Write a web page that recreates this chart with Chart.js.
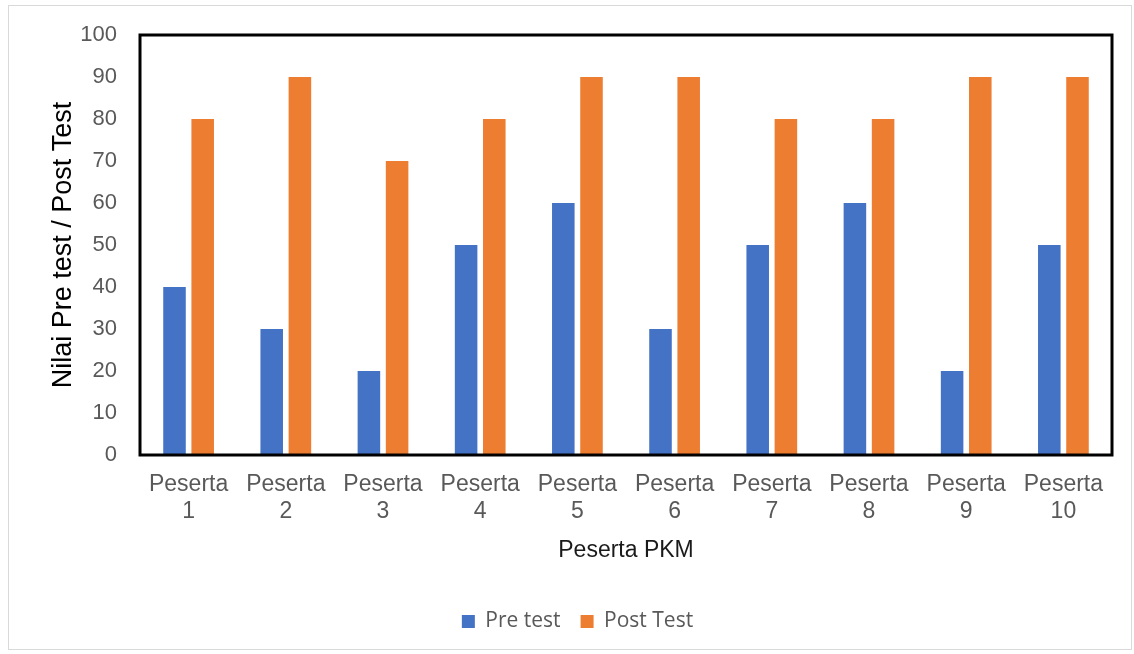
<!DOCTYPE html>
<html lang="id">
<head>
<meta charset="UTF-8">
<title>Nilai Pre test / Post Test</title>
<script src="https://cdn.jsdelivr.net/npm/chart.js"></script>
<style>
  body { margin: 0; background: #fff; }
  #wrap { position: absolute; left: 8px; top: 5px; width: 1124px; height: 645px; border: 1px solid #d9d9d9; box-sizing: border-box; }
  canvas { display: block; }
</style>
</head>
<body>
<div id="wrap"><canvas id="nilaiChart"></canvas></div>
<script>
// data peserta
const pesertaLabels = [['Peserta', '1'], ['Peserta', '2'], ['Peserta', '3'], ['Peserta', '4'], ['Peserta', '5'],
                       ['Peserta', '6'], ['Peserta', '7'], ['Peserta', '8'], ['Peserta', '9'], ['Peserta', '10']];
const preTest = [40, 30, 20, 50, 60, 30, 50, 60, 20, 50];
const postTest = [80, 90, 70, 80, 90, 90, 80, 80, 90, 90];

// bingkai hitam di sekitar area plot
const frame = {
  id: 'frame',
  afterDatasetsDraw(chart) {
    const a = chart.chartArea, c = chart.ctx;
    c.save();
    c.strokeStyle = '#000';
    c.lineWidth = 3;
    c.strokeRect(a.left, a.top, a.right - a.left, a.bottom - a.top);
    c.restore();
  }
};

const font = { family: 'Arial, "Liberation Sans", sans-serif' };

new Chart(document.getElementById('nilaiChart'), {
  type: 'bar',
  data: {
    labels: pesertaLabels,
    datasets: [
      { label: 'Pre test', data: preTest, backgroundColor: '#4472c4', barPercentage: 0.8, categoryPercentage: 0.58 },
      { label: 'Post Test', data: postTest, backgroundColor: '#ed7d31', barPercentage: 0.8, categoryPercentage: 0.58 }
    ]
  },
  options: {
    responsive: true,
    maintainAspectRatio: false,
    animation: false,
    layout: { padding: { top: 29, right: 19, left: 34, bottom: 7 } },
    plugins: {
      tooltip: { enabled: false },
      legend: {
        position: 'bottom',
        labels: {
          boxWidth: 13, boxHeight: 13, padding: 20, color: '#595959',
          font: { family: '"Open Sans", Arial, sans-serif', size: 21 }
        }
      }
    },
    scales: {
      x: {
        grid: { display: false, drawTicks: false },
        border: { display: false },
        ticks: { color: '#595959', font: { ...font, size: 23, lineHeight: 1.17 }, padding: 16, maxRotation: 0 },
        title: { display: true, text: 'Peserta PKM', color: '#1a1a1a', font: { ...font, size: 23 }, padding: { top: 8, bottom: 27 } },
        afterFit(s) { s.height = 136; }
      },
      y: {
        min: 0, max: 100,
        grid: { display: false, drawTicks: false },
        border: { display: false },
        ticks: { stepSize: 10, color: '#595959', font: { ...font, size: 22 }, padding: 23 },
        title: { display: true, text: 'Nilai Pre test / Post Test', color: '#000', font: { ...font, size: 27 }, padding: 4 },
        afterFit(s) { s.width = 97; s.paddingTop = 12; s.paddingBottom = 12; }
      }
    }
  },
  plugins: [frame]
});
</script>
</body>
</html>
